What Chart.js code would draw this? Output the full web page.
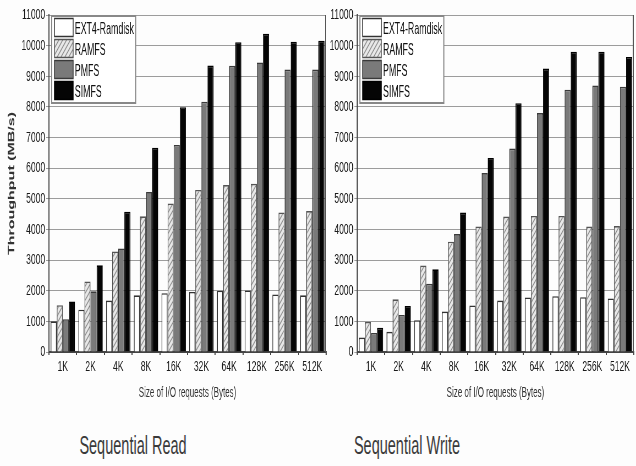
<!DOCTYPE html>
<html>
<head>
<meta charset="utf-8">
<script src="https://cdn.jsdelivr.net/npm/chart.js@4.4.1/dist/chart.umd.min.js"></script>
<style>
  html, body { margin: 0; padding: 0; background: #fdfdfd; }
  #wrap { position: relative; width: 636px; height: 466px; overflow: hidden; }
  /* the original figure is squeezed horizontally, so each chart is drawn wide and squeezed */
  .squeeze { position: absolute; top: 0; transform: scaleX(0.55); transform-origin: 0 0; }
  .cap {
    position: absolute; top: 431px; width: 200px; text-align: center;
    font-family: "Liberation Sans", Arial, sans-serif;
    font-size: 25px; color: #3a3a3a;
    transform: scaleX(0.58); transform-origin: 50% 0;
  }
</style>
</head>
<body>
<div id="wrap">
  <div class="squeeze" style="left:0px"><canvas id="readChart"></canvas></div>
  <div class="squeeze" style="left:328px"><canvas id="writeChart"></canvas></div>
  <div class="cap" style="left:33px">Sequential Read</div>
  <div class="cap" style="left:307px">Sequential Write</div>
</div>
<script>
const categories = ["1K", "2K", "4K", "8K", "16K", "32K", "64K", "128K", "256K", "512K"];
const seriesNames = ["EXT4-Ramdisk", "RAMFS", "PMFS", "SIMFS"];

// Sequential Read (MB/s)
const readExt4  = [1000, 1380, 1680, 1850, 1920, 1960, 2000, 2010, 1880, 1850];
const readRamfs = [1530, 2300, 3280, 4430, 4850, 5290, 5450, 5490, 4550, 4600];
const readPmfs  = [1070, 1980, 3380, 5220, 6760, 8170, 9340, 9450, 9220, 9220];
const readSimfs = [1650, 2830, 4580, 6670, 7990, 9350, 10110, 10390, 10130, 10160];

// Sequential Write (MB/s)
const writeExt4  = [470, 660, 1040, 1320, 1520, 1680, 1780, 1820, 1790, 1750];
const writeRamfs = [980, 1720, 2820, 3600, 4100, 4420, 4440, 4440, 4100, 4110];
const writePmfs  = [620, 1210, 2230, 3850, 5840, 6640, 7800, 8560, 8700, 8660];
const writeSimfs = [790, 1500, 2700, 4550, 6330, 8120, 9250, 9800, 9800, 9630];

const yMax = 11000;
const yStep = 1000;

const sans = '"Liberation Sans", Arial, sans-serif';

function hatch() {
  const c = document.createElement("canvas");
  c.width = 7; c.height = 7;
  const g = c.getContext("2d");
  g.fillStyle = "#e8e8e8";
  g.fillRect(0, 0, 7, 7);
  g.strokeStyle = "#8c8c8c";
  g.lineWidth = 1.3;
  g.beginPath();
  g.moveTo(0, 7); g.lineTo(7, 0);
  g.moveTo(-1, 1); g.lineTo(1, -1);
  g.moveTo(6, 8); g.lineTo(8, 6);
  g.stroke();
  return g.createPattern(c, "repeat");
}

const fills = [
  { bg: "#ffffff", border: "#333333" },
  { bg: null, border: "#555555" },
  { bg: "#7a7a7a", border: "#3a3a3a" },
  { bg: "#050505", border: "#000000" }
];

// legend drawn inside the plot, top-left, like the original figure
const boxLegend = {
  id: "boxLegend",
  afterDraw(chart) {
    const ctx = chart.ctx;
    const a = chart.chartArea;
    const x0 = a.left + 5, y0 = a.top + 1;
    const rowH = 21;
    ctx.save();
    ctx.font = "16px " + sans;
    let tw = 0;
    chart.data.datasets.forEach(d => { tw = Math.max(tw, ctx.measureText(d.label).width); });
    const w = 42 + tw + 3, h = rowH * 4 + 3;
    ctx.fillStyle = "#ffffff";
    ctx.fillRect(x0, y0, w, h);
    ctx.strokeStyle = "#888888";
    ctx.lineWidth = 2;
    ctx.strokeRect(x0, y0, w, h);
    ctx.lineWidth = 1.5;
    chart.data.datasets.forEach((d, i) => {
      const sy = y0 + 2 + i * rowH;
      ctx.fillStyle = d.backgroundColor;
      ctx.fillRect(x0 + 5, sy, 34, rowH - 2);
      ctx.strokeStyle = d.borderColor;
      ctx.strokeRect(x0 + 5, sy + 0.5, 34, rowH - 3);
      ctx.fillStyle = "#111111";
      ctx.textBaseline = "middle";
      ctx.fillText(d.label, x0 + 42, sy + rowH / 2 + 1);
    });
    ctx.restore();
  }
};

// right border of each plot
const frame = {
  id: "frame",
  afterDraw(chart) {
    const a = chart.chartArea, ctx = chart.ctx;
    ctx.save();
    ctx.strokeStyle = "#555";
    ctx.lineWidth = 2;
    ctx.beginPath();
    ctx.moveTo(a.right - 1, a.top);
    ctx.lineTo(a.right - 1, a.bottom);
    ctx.stroke();
    ctx.restore();
  }
};

function makeChart(id, width, series, yWidth, padRight, showTitle) {
  const cv = document.getElementById(id);
  cv.width = width; cv.height = 405;
  const pat = hatch();
  const datasets = series.map((vals, i) => ({
    label: seriesNames[i],
    data: vals,
    backgroundColor: fills[i].bg || pat,
    borderColor: fills[i].border,
    borderWidth: 1.6,
    categoryPercentage: 0.88,
    barPercentage: 1.0
  }));
  return new Chart(cv, {
    type: "bar",
    data: { labels: categories, datasets: datasets },
    plugins: [boxLegend, frame],
    options: {
      responsive: false,
      animation: false,
      layout: { padding: { top: 15, right: padRight, left: 0, bottom: 0 } },
      plugins: { legend: { display: false }, tooltip: { enabled: false } },
      scales: {
        x: {
          afterFit: s => { s.height = 53; },
          grid: { display: true, drawOnChartArea: false, tickLength: 3, lineWidth: 2, color: "#444", offset: true },
          border: { color: "#444", width: 2 },
          ticks: { color: "#1a1a1a", font: { family: sans, size: 15.5 }, padding: 2, maxRotation: 0, autoSkip: false },
          title: { display: true, text: "Size of I/O requests (Bytes)", color: "#333", font: { family: sans, size: 14.5 }, padding: { top: 4, bottom: 3 } }
        },
        y: {
          min: 0, max: yMax,
          afterFit: s => { s.width = yWidth; },
          grid: { color: "#9c9c9c", lineWidth: 1, tickLength: 5 },
          border: { color: "#444", width: 2 },
          ticks: { stepSize: yStep, color: "#1a1a1a", font: { family: sans, size: 15.5 }, padding: 2, callback: v => String(v) },
          title: { display: showTitle, text: "Throughput (MB/s)", color: "#333", font: { family: sans, size: 16, weight: "bold" }, padding: { top: 12, bottom: 0 } }
        }
      }
    }
  });
}

makeChart("readChart", 596, [readExt4, readRamfs, readPmfs, readSimfs], 89, 3, true);
makeChart("writeChart", 560, [writeExt4, writeRamfs, writePmfs, writeSimfs], 53, 4, false);
</script>
</body>
</html>
